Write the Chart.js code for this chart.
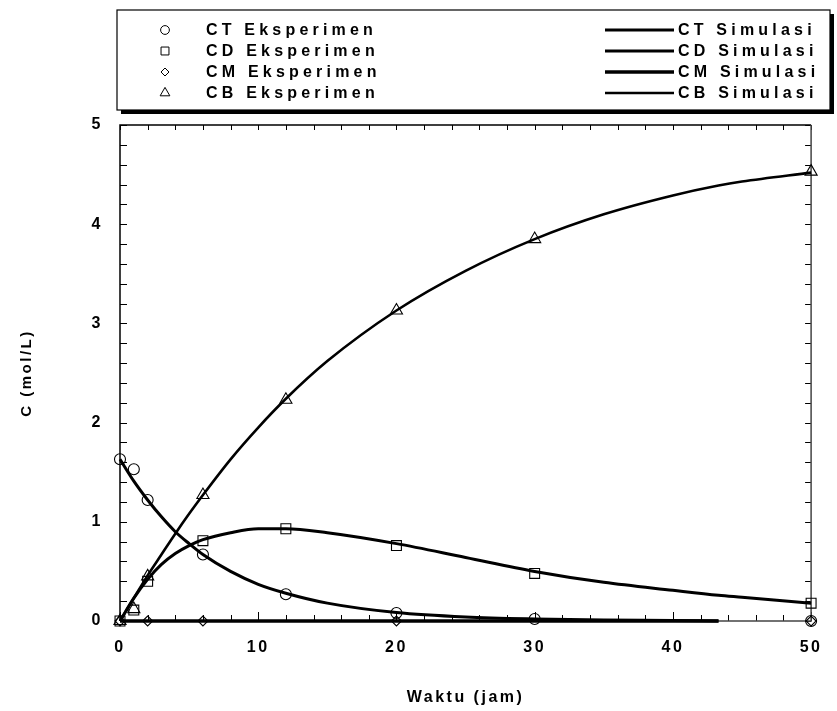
<!DOCTYPE html>
<html>
<head>
<meta charset="utf-8">
<script src="https://cdn.jsdelivr.net/npm/chart.js@4.4.1/dist/chart.umd.min.js"></script>
<style>
  html, body { margin: 0; padding: 0; background: #fff; }
  canvas { display: block; }
</style>
</head>
<body>
<canvas id="kinetics-chart" width="837" height="711"></canvas>
<script>
// measured points (Eksperimen)
const expTime = [0, 1, 2, 6, 12, 20, 30, 50];
const ctExp = [1.63, 1.53, 1.22, 0.67, 0.27, 0.08, 0.02, 0];
const cdExp = [0, 0.11, 0.40, 0.81, 0.93, 0.76, 0.48, 0.18];
const cmExp = [0, null, 0, 0, null, 0, null, 0];
const cbExp = [0, 0.12, 0.45, 1.27, 2.23, 3.13, 3.85, 4.53];

// simulated curves (Simulasi)
const simTime = [0, 1, 2, 3, 4, 5, 6, 8, 10, 12, 15, 20, 25, 30, 35, 40, 43.3, 45, 50];
const ctSim = [1.63, 1.41, 1.22, 1.05, 0.90, 0.78, 0.67, 0.50, 0.37, 0.28, 0.18, 0.085, 0.04, 0.02, 0.01, 0.005, 0, null, null];
const cdSim = [0, 0.23, 0.42, 0.57, 0.68, 0.76, 0.82, 0.89, 0.93, 0.93, 0.89, 0.78, 0.64, 0.50, 0.39, 0.31, 0.26, 0.24, 0.18];
const cmSim = [0, 0, 0, 0, 0, 0, 0, 0, 0, 0, 0, 0, 0, 0, 0, 0, 0, null, null];
const cbSim = [0, 0.23, 0.46, 0.67, 0.88, 1.08, 1.27, 1.63, 1.95, 2.24, 2.62, 3.13, 3.53, 3.85, 4.10, 4.29, 4.39, 4.43, 4.52];

const xTicks = [0, 10, 20, 30, 40, 50];
const yTicks = [0, 1, 2, 3, 4, 5];

function toPoints(times, values) {
    return times.map((t, i) => ({ x: t, y: values[i] }));
}

function expSet(label, values, style, radius) {
    return {
        label: label,
        data: toPoints(expTime, values),
        showLine: false,
        pointStyle: style,
        pointRadius: radius,
        pointBorderColor: '#000',
        pointBackgroundColor: 'rgba(0,0,0,0)',
        pointBorderWidth: 1.1,
        clip: false,
        order: 0
    };
}

function simSet(label, values, width) {
    return {
        label: label,
        data: toPoints(simTime, values),
        showLine: true,
        borderColor: '#000',
        borderWidth: width,
        pointRadius: 0,
        cubicInterpolationMode: 'monotone',
        spanGaps: false,
        clip: 3,
        order: 1
    };
}

Chart.defaults.font.family = '"Liberation Sans", Arial, sans-serif';
Chart.defaults.color = '#000';

// wide letter spacing like the original
const spacing = {
    id: 'spacing',
    beforeDraw(chart) {
        chart.ctx.letterSpacing = '2.5px';
    }
};

// plot frame with inward ticks on all four sides
const frameTicks = {
    id: 'frameTicks',
    beforeDatasetsDraw(chart) {
        const { ctx, chartArea: { left, right, top, bottom }, scales: { x, y } } = chart;
        ctx.save();
        ctx.strokeStyle = '#000';
        ctx.lineWidth = 1;
        ctx.beginPath();
        for (let v = 0; v <= 50; v += 2) {
            const px = Math.round(x.getPixelForValue(v)) + 0.5;
            const len = v % 10 === 0 ? 9 : 6;
            ctx.moveTo(px, bottom); ctx.lineTo(px, bottom - len);
            ctx.moveTo(px, top); ctx.lineTo(px, top + 5);
        }
        for (let i = 0; i <= 25; i++) {
            const py = Math.round(y.getPixelForValue(i * 0.2)) + 0.5;
            ctx.moveTo(left, py); ctx.lineTo(left + 7, py);
            ctx.moveTo(right, py); ctx.lineTo(right - 6, py);
        }
        ctx.stroke();

        ctx.lineWidth = 1.5;
        ctx.beginPath();
        ctx.moveTo(left, bottom); ctx.lineTo(left, top); ctx.lineTo(right, top);
        ctx.stroke();
        ctx.strokeStyle = '#444';
        ctx.beginPath();
        ctx.moveTo(right, top); ctx.lineTo(right, bottom); ctx.lineTo(left, bottom);
        ctx.stroke();
        ctx.restore();
    }
};

// boxed two-column legend above the plot
const legendBox = {
    id: 'legendBox',
    afterDraw(chart) {
        const ctx = chart.ctx;
        const rows = [30, 51, 72, 93];
        ctx.save();
        ctx.fillStyle = '#000';
        ctx.fillRect(121, 14, 713, 100);
        ctx.fillStyle = '#fff';
        ctx.fillRect(117, 10, 713, 100);
        ctx.strokeStyle = '#000';
        ctx.lineWidth = 1.2;
        ctx.strokeRect(117, 10, 713, 100);

        ctx.font = 'bold 16px "Liberation Sans", Arial, sans-serif';
        ctx.letterSpacing = '4.2px';
        ctx.textBaseline = 'middle';

        const exp = chart.data.datasets.filter(d => !d.showLine);
        const sim = chart.data.datasets.filter(d => d.showLine);
        exp.forEach((d, i) => {
            ctx.strokeStyle = '#000';
            ctx.fillStyle = 'rgba(0,0,0,0)';
            ctx.lineWidth = 1;
            Chart.helpers.drawPoint(ctx, { pointStyle: d.pointStyle, radius: d.pointRadius * 0.8, rotation: 0, borderWidth: 1 }, 165, rows[i]);
            ctx.fillStyle = '#000';
            ctx.fillText(d.label, 206, rows[i] + 1);
        });
        sim.forEach((d, i) => {
            ctx.strokeStyle = '#000';
            ctx.lineWidth = d.borderWidth;
            ctx.beginPath();
            ctx.moveTo(605, rows[i]); ctx.lineTo(674, rows[i]);
            ctx.stroke();
            ctx.fillStyle = '#000';
            ctx.fillText(d.label, 678, rows[i] + 1);
        });
        ctx.restore();
    }
};

new Chart(document.getElementById('kinetics-chart'), {
    type: 'scatter',
    data: {
        datasets: [
            expSet('CT Eksperimen', ctExp, 'circle', 5.5),
            expSet('CD Eksperimen', cdExp, 'rect', 7),
            expSet('CM Eksperimen', cmExp, 'rectRot', 5),
            expSet('CB Eksperimen', cbExp, 'triangle', 7),
            simSet('CT Simulasi', ctSim, 3),
            simSet('CD Simulasi', cdSim, 3),
            simSet('CM Simulasi', cmSim, 3.5),
            simSet('CB Simulasi', cbSim, 2.6)
        ]
    },
    options: {
        responsive: false,
        animation: false,
        layout: { padding: { top: 125, right: 11, left: 0, bottom: 0 } },
        plugins: { legend: { display: false }, tooltip: { enabled: false } },
        scales: {
            x: {
                type: 'linear',
                min: 0,
                max: 50,
                afterFit: s => { s.height = 90; },
                afterBuildTicks: s => { s.ticks = xTicks.map(v => ({ value: v })); },
                grid: { display: false, drawTicks: false },
                border: { display: false },
                ticks: { padding: 17, maxRotation: 0, font: { size: 16, weight: 'bold' } },
                title: { display: true, text: 'Waktu (jam)', font: { size: 16, weight: 'bold' }, padding: { top: 0, bottom: 4 } }
            },
            y: {
                type: 'linear',
                min: 0,
                max: 5,
                afterFit: s => { s.width = 120; },
                afterBuildTicks: s => { s.ticks = yTicks.map(v => ({ value: v })); },
                grid: { display: false, drawTicks: false },
                border: { display: false },
                ticks: { padding: 17, font: { size: 16, weight: 'bold' } },
                title: { display: true, text: 'C (mol/L)', font: { size: 15, weight: 'bold' }, padding: { top: 18, bottom: 0 } }
            }
        }
    },
    plugins: [spacing, frameTicks, legendBox]
});
</script>
</body>
</html>
